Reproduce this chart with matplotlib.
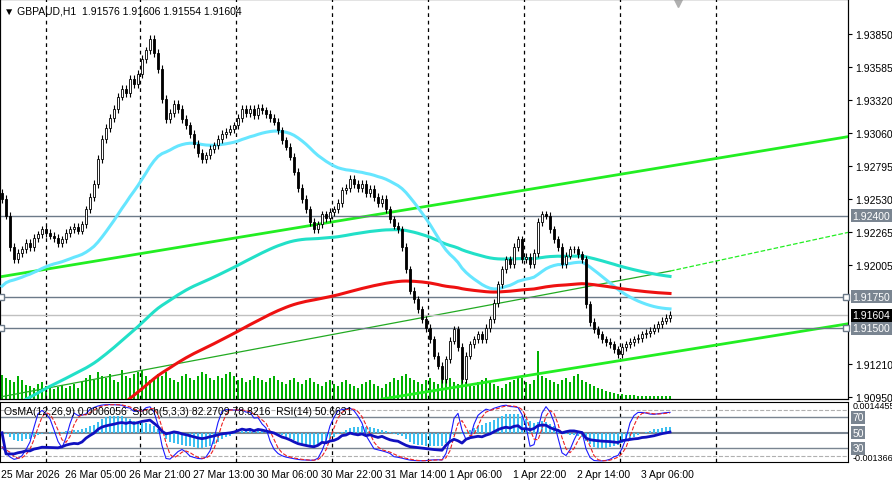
import matplotlib
matplotlib.use("Agg")
import matplotlib.pyplot as plt
import numpy as np
import pandas as pd

plt.rcParams['font.family'] = ['Liberation Sans', 'DejaVu Sans']

# closes in pips above 1.9000
close_pips = [253,240,215,205,210,213,218,215,222,225,229,226,224,222,218,221,226,229,231,228,233,
              245,255,265,285,301,310,318,325,335,341,338,349,345,353,365,372,381,370,357,333,317,
              322,329,325,317,312,305,297,290,285,288,293,296,301,305,307,309,312,318,325,322,325,
              320,326,324,321,318,315,308,300,295,287,275,262,253,245,235,229,233,241,238,243,245,
              250,260,262,269,265,262,265,258,261,255,250,253,245,237,232,229,215,197,180,173,165,
              157,150,141,128,120,109,125,140,149,135,109,128,137,141,145,141,150,157,170,185,197,
              205,201,215,221,205,207,201,210,235,241,240,229,221,215,201,208,213,213,209,205,169,
              155,149,145,141,139,137,133,129,135,137,139,141,142,145,146,148,150,153,156,158,160.4]
volume = [25,22,20,18,24,20,15,14,12,16,18,14,12,10,13,15,12,14,16,12,18,
          22,25,20,28,24,22,26,20,18,30,24,22,26,28,30,24,20,22,26,24,28,
          22,20,18,24,26,22,20,24,28,26,22,20,24,22,26,28,24,20,22,18,20,
          24,22,20,18,22,24,20,18,16,20,22,18,16,20,22,18,16,14,18,20,16,
          14,18,20,16,14,12,16,18,20,16,14,12,16,18,22,20,24,26,22,20,18,
          16,20,22,18,16,20,24,22,18,16,20,18,16,14,18,20,22,18,16,14,12,
          16,18,20,24,22,18,16,20,50,24,22,20,18,16,20,22,18,24,26,20,18,
          16,14,12,10,8,7,6,5,5,4,4,4,3,3,3,3,3,3,3,3,3]
date_labels = ["25 Mar 2026","26 Mar 05:00","26 Mar 21:00","27 Mar 13:00","30 Mar 06:00",
               "30 Mar 22:00","31 Mar 14:00","1 Apr 06:00","1 Apr 22:00","2 Apr 14:00","3 Apr 06:00"]
price_ticks = [1.93850,1.93585,1.93320,1.93060,1.92795,1.92530,1.92265,1.92005,1.91210,1.90950]
levels = [1.92400,1.91750,1.91500]
last_price = 1.91604
title = "GBPAUD,H1  1.91576 1.91606 1.91554 1.91604"

FS = 7.5
c = 1.9 + np.array(close_pips)/10000.0
n = len(c)
o = np.concatenate([[c[0]+0.0005], c[:-1]])
wick = 0.0003
h = np.maximum(o, c) + wick
l = np.minimum(o, c) - wick
idx = np.arange(n)
cs = pd.Series(c)

def ema_seed(s, span, seed):
    full = pd.concat([pd.Series([seed]*span), s], ignore_index=True)
    return full.ewm(span=span, adjust=False).mean().values[span:]

ma_fast = ema_seed(cs, 40, 1.9180)
ma_mid = ema_seed(cs, 144, 1.9080)
ma_slow = ema_seed(cs, 200, 1.9030)

W, H = 892, 485
fig = plt.figure(figsize=(W/100, H/100), dpi=100)
ax = fig.add_axes([0, 85/H, 848/W, 400/H])
ax2 = fig.add_axes([0, 22/H, 848/W, 60/H])
XL = (-0.5, 211.5)
for a in (ax, ax2):
    a.set_xlim(*XL)
    for s in a.spines.values():
        s.set_linewidth(0.8)
ax.set_ylim(1.90934, 1.94130)

# volume
axv = ax.twinx()
axv.set_ylim(0, 420)
axv.bar(idx, volume, width=0.35, color='#00b000')
axv.set_yticks([])
axv.set_zorder(0)
ax.set_zorder(1); ax.patch.set_visible(False)

# day separators
for b in [11,34.5,58.5,82.5,106.5,130.5,154.5,178.5]:
    for a in (ax, ax2):
        a.axvline(b, color='black', ls=(0,(3,3)), lw=0.9, zorder=1)

# trend lines
ax.plot([XL[0], XL[1]], [1.9191, 1.9303], color='#22ee22', lw=2, zorder=2)
ax.plot([XL[0], 167], [1.9095, 1.91956], color='#22aa22', lw=0.9, zorder=2)
ax.plot([167, XL[1]], [1.91956, 1.92265], color='#22ee22', lw=0.9, ls='--', zorder=2)
ax.plot([95, XL[1]], [1.90934, 1.91535], color='#22ee22', lw=2, zorder=2)

# levels
for lv in levels:
    ax.axhline(lv, color='#6c7a89', lw=1, zorder=2)
ax.axhline(last_price, color='#c0c0c0', lw=1, zorder=2)
for lv in levels[1:]:
    ax.plot([XL[0]+0.3, XL[1]-0.4], [lv, lv], 's', ms=4, mfc='white', mec='#6c7a89', clip_on=False, zorder=3)

# MAs
ax.plot(idx, ma_mid, color='#22e0c8', lw=2.2, zorder=3)
ax.plot(idx, ma_fast, color='#66e6ff', lw=2.2, zorder=3)
ax.plot(idx, ma_slow, color='#ee1111', lw=2.2, zorder=3)

# candles
for i in range(n):
    ax.vlines(i, l[i], h[i], color='black', lw=0.8, zorder=4)
    bot = min(o[i], c[i]); ht = max(abs(c[i]-o[i]), 0.00002)
    fc = 'white' if c[i] >= o[i] else 'black'
    ax.add_patch(plt.Rectangle((i-0.35, bot), 0.7, ht, fc=fc, ec='black', lw=0.6, zorder=5))

ax.set_xticks([])
ax.yaxis.tick_right()
ax.set_yticks(price_ticks)
ax.set_yticklabels([f"{p:.5f}" for p in price_ticks], fontsize=FS)
ax.tick_params(axis='y', length=3, pad=2)
ax.text(0.005, 0.985, "\u25BC " + title, transform=ax.transAxes, fontsize=FS, va='top', ha='left',
        family=['DejaVu Sans'] if False else None)
ax.plot([169], [1.9410], marker='v', color='#b0b0b0', ms=6, clip_on=False)

def box(a, y, txt, bg, fg='white'):
    a.text(1.005, y, txt, transform=a.get_yaxis_transform(), fontsize=FS, color=fg, va='center', ha='left',
           bbox=dict(boxstyle='square,pad=0.15', fc=bg, ec='none'), zorder=10, clip_on=False)
box(ax, 1.92400, "1.92400", '#7a8591')
box(ax, 1.91750, "1.91750", '#7a8591')
box(ax, 1.91604, "1.91604", 'black')
box(ax, 1.91500, "1.91500", '#7a8591')

# indicators panel
delta = cs.diff()
up = delta.clip(lower=0).ewm(alpha=1/14, adjust=False).mean()
dn = (-delta.clip(upper=0)).ewm(alpha=1/14, adjust=False).mean()
rsi = (100 - 100/(1+up/dn.replace(0, 1e-9))).fillna(50).values
hh = pd.Series(h).rolling(5, min_periods=1).max(); ll = pd.Series(l).rolling(5, min_periods=1).min()
k = ((cs-ll).rolling(3, min_periods=1).sum()/(hh-ll).rolling(3, min_periods=1).sum()*100).values
d = pd.Series(k).rolling(3, min_periods=1).mean().values
macd = cs.ewm(span=12, adjust=False).mean() - cs.ewm(span=26, adjust=False).mean()
osma = (macd - macd.ewm(span=9, adjust=False).mean()).values

ax2.set_ylim(12, 90)
ax2.bar(idx, osma*20000, bottom=50, width=0.6, color='#3cc0f0', zorder=2)
for lv in (70, 50, 30):
    ax2.axhline(lv, color='#7a8591', lw=1.5 if lv == 50 else 1, zorder=1)
for lv in (80, 20):
    ax2.axhline(lv, color='#b0b0b0', lw=0.8, ls='--', zorder=1)
ax2.plot(idx, k*0.8+10, color='#1a1aff', lw=0.8, zorder=3)
ax2.plot(idx, d*0.8+10, color='#ee2222', lw=0.8, ls='--', zorder=3)
ax2.plot(idx, 50+(rsi-50)*0.55, color='#1010c0', lw=2, zorder=4)
ax2.set_yticks([]); ax2.set_xticks([])
ax2.text(0.005, 0.93, "OsMA(12,26,9) 0.0006056  Stoch(5,3,3) 82.2709 78.8216  RSI(14) 50.6631",
         transform=ax2.transAxes, fontsize=FS, va='top')
ax2.text(1.005, 1.02, "0.0014455", transform=ax2.transAxes, fontsize=6.5, va='top')
ax2.text(1.005, 0.0, "-0.001366", transform=ax2.transAxes, fontsize=6.5, va='bottom')
box(ax2, 70, "70", '#7a8591'); box(ax2, 50, "50", '#7a8591'); box(ax2, 30, "30", '#7a8591')

for j, lab in enumerate(date_labels):
    fig.text((16*j+0.3)/212*848/W, 10/H, lab, fontsize=FS, ha='left', va='center')

fig.savefig("out.png", dpi=100, facecolor='white')
